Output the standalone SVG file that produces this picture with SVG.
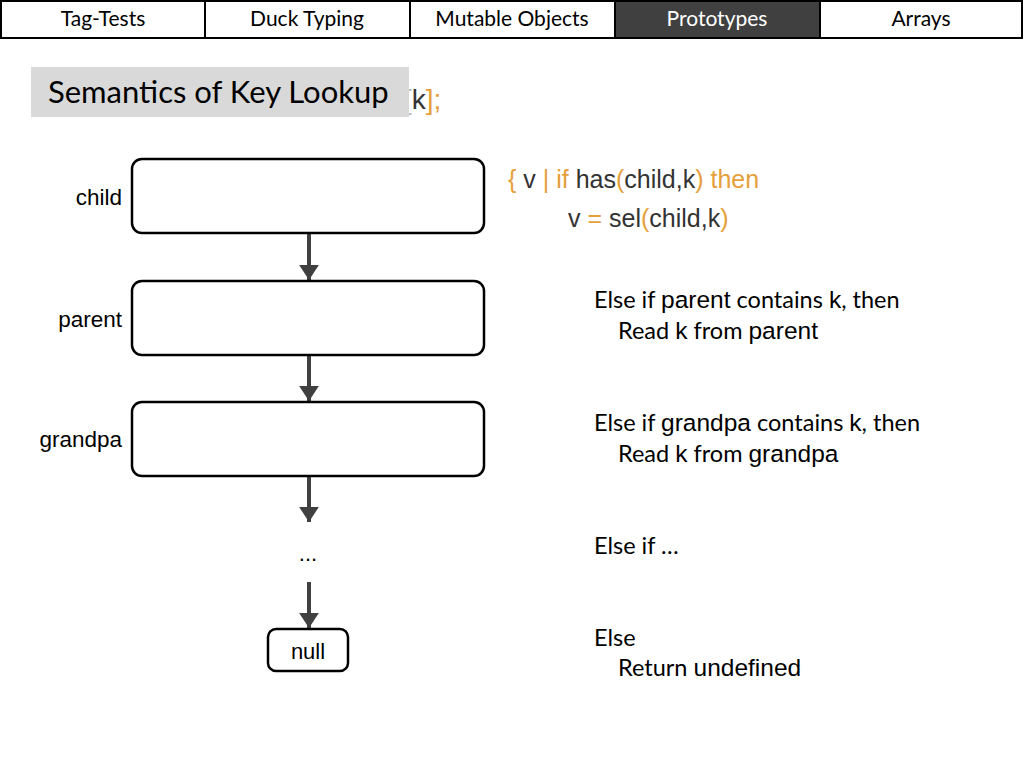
<svg xmlns="http://www.w3.org/2000/svg" width="1024" height="768" viewBox="0 0 1024 768">
<style>
.tab{fill:#fff;stroke:#000;stroke-width:2}
.tabt{font-family:Lato,"Open Sans","Liberation Sans",sans-serif;font-size:21px;fill:#000;text-anchor:middle}
.cal{font-family:Lato,"Open Sans","Liberation Sans",sans-serif;font-size:23.5px;fill:#000}
.hel{font-family:"Liberation Sans",Arial,sans-serif}
tspan.big{font-family:"Liberation Sans",Arial,sans-serif;font-size:24.5px}
.node{fill:#fff;stroke:#000;stroke-width:2.5}
.lbl{font-family:"Liberation Sans",Arial,sans-serif;font-size:22.5px;fill:#000;text-anchor:end}
.conn{stroke:#404040;stroke-width:4;fill:none}
.code{font-family:"Liberation Sans",Arial,sans-serif;font-size:25px;fill:#333}
.o{fill:#E5A03A}
</style>
<defs>
<marker id="ah" markerWidth="4" markerHeight="5" refX="3.8" refY="2.5" orient="auto" markerUnits="strokeWidth">
<path d="M0,0 L3.8,2.5 L0,5 Z" fill="#404040"/>
</marker>
</defs>
<rect width="1024" height="768" fill="#fff"/>
<g id="tabs">
<rect class="tab" x="1" y="1" width="204" height="37"/>
<rect class="tab" x="205" y="1" width="205" height="37"/>
<rect class="tab" x="410" y="1" width="205" height="37"/>
<rect x="615" y="1" width="205" height="37" fill="#404040" stroke="#000" stroke-width="2"/>
<rect class="tab" x="820" y="1" width="202" height="37"/>
<text class="tabt" x="103" y="26">Tag-Tests</text>
<text class="tabt" x="307" y="26">Duck Typing</text>
<text class="tabt" x="512" y="26">Mutable Objects</text>
<text class="tabt" x="717" y="26" style="fill:#fff">Prototypes</text>
<text class="tabt" x="921" y="26">Arrays</text>
</g>
<g id="title">
<text class="code" x="404" y="109" style="font-size:28px"><tspan fill="#bbb">[</tspan><tspan fill="#333">k</tspan><tspan class="o">];</tspan></text>
<rect x="31" y="67" width="378" height="50" fill="#d9d9d9"/>
<text x="48" y="103" style="font-family:Lato,'Open Sans','Liberation Sans',sans-serif;font-size:31px;fill:#000">Semantics of Key Lookup</text>
</g>
<g id="connectors">
<line class="conn" x1="309" y1="234" x2="309" y2="280" marker-end="url(#ah)"/>
<line class="conn" x1="309" y1="356" x2="309" y2="401" marker-end="url(#ah)"/>
<line class="conn" x1="309" y1="477" x2="309" y2="522" marker-end="url(#ah)"/>
<line class="conn" x1="309" y1="582" x2="309" y2="628" marker-end="url(#ah)"/>
</g>
<g id="child">
<rect class="node" x="132" y="159" width="352" height="74" rx="10"/>
<text class="lbl" x="122" y="205">child</text>
</g>
<g id="parent">
<rect class="node" x="132" y="281" width="352" height="74" rx="10"/>
<text class="lbl" x="122" y="327">parent</text>
</g>
<g id="grandpa">
<rect class="node" x="132" y="402" width="352" height="74" rx="10"/>
<text class="lbl" x="122" y="447">grandpa</text>
</g>
<g id="ellipsis">
<text class="hel" x="308" y="561" style="font-size:22px;text-anchor:middle">...</text>
</g>
<g id="null">
<rect class="node" x="268" y="629" width="80" height="42" rx="8"/>
<text class="hel" x="308" y="659" style="font-size:22px;text-anchor:middle">null</text>
</g>
<g id="rules">
<text class="code" x="508" y="188"><tspan class="o">{</tspan> v <tspan class="o">|</tspan> <tspan class="o">if</tspan> has<tspan class="o">(</tspan>child,k<tspan class="o">)</tspan> <tspan class="o">then</tspan></text>
<text class="code" x="568" y="227">v <tspan class="o">=</tspan> sel<tspan class="o">(</tspan>child,k<tspan class="o">)</tspan></text>
<text class="cal" x="594" y="308">Else if <tspan class="big">parent</tspan> contains <tspan class="big">k</tspan>, then</text>
<text class="cal" x="618" y="339">Read <tspan class="big">k</tspan> from <tspan class="big">parent</tspan></text>
<text class="cal" x="594" y="431">Else if <tspan class="big">grandpa</tspan> contains <tspan class="big">k</tspan>, then</text>
<text class="cal" x="618" y="462">Read <tspan class="big">k</tspan> from <tspan class="big">grandpa</tspan></text>
<text class="cal" x="594" y="554">Else if …</text>
<text class="cal" x="594" y="646">Else</text>
<text class="cal" x="618" y="676">Return <tspan class="big">undefined</tspan></text>
</g>
</svg>
